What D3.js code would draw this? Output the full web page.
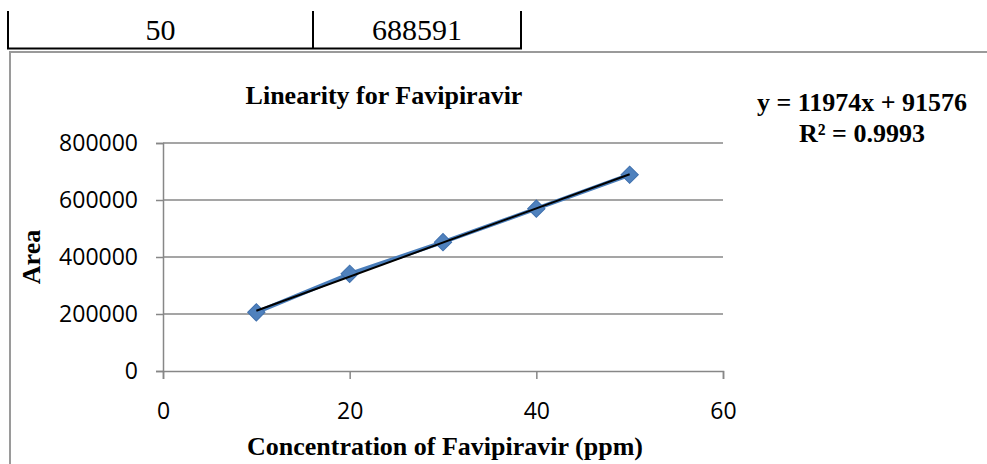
<!DOCTYPE html>
<html>
<head>
<meta charset="utf-8">
<script src="https://cdn.jsdelivr.net/npm/d3@7"></script>
<style>
  body { margin: 0; background: #fff; }
  svg { display: block; }
</style>
</head>
<body>
<svg id="chart" width="987" height="464"></svg>
<script>
// table row above the chart
const tableRow = ["50", "688591"];

// series
const concentrations = [10, 20, 30, 40, 50];
const areas = [205800, 341000, 451900, 569700, 688591];

// axes
const xTicks = [0, 20, 40, 60];
const yTicks = [0, 200000, 400000, 600000, 800000];

// trendline
const slope = 11974;
const intercept = 91576;
const rSquared = "0.9993";

const svg = d3.select("#chart");
const serif = "'Liberation Serif', 'Times New Roman', serif";
const sans = "'Open Sans', sans-serif";
const grid = "#878787";

// table fragment at the top
const cols = [8, 313, 521];
cols.forEach(x => {
    svg.append("line")
        .attr("x1", x).attr("x2", x).attr("y1", 11).attr("y2", 49)
        .attr("stroke", "#000").attr("stroke-width", 2);
});
svg.append("line")
    .attr("x1", 7).attr("x2", 522).attr("y1", 48.5).attr("y2", 48.5)
    .attr("stroke", "#000").attr("stroke-width", 2);
tableRow.forEach((t, i) => {
    svg.append("text")
        .attr("x", (cols[i] + cols[i + 1]) / 2)
        .attr("y", 40)
        .attr("text-anchor", "middle")
        .attr("font-family", serif)
        .attr("font-size", 30)
        .text(t);
});

// chart frame
svg.append("path")
    .attr("d", "M10,464 V52 H987")
    .attr("fill", "none")
    .attr("stroke", "#9a9a9a")
    .attr("stroke-width", 2);

const x = d3.scaleLinear().domain([0, 60]).range([163, 723]);
const y = d3.scaleLinear().domain([0, 800000]).range([371, 143]);

// gridlines
svg.append("g")
    .selectAll("line")
    .data(yTicks.slice(1))
    .join("line")
    .attr("x1", x(0)).attr("x2", x(60))
    .attr("y1", d => y(d)).attr("y2", d => y(d))
    .attr("stroke", grid).attr("stroke-width", 1.5);

// axes
const yAxis = svg.append("g")
    .attr("transform", `translate(${x(0)},0)`)
    .call(d3.axisLeft(y).tickValues(yTicks).tickSize(7).tickPadding(18).tickFormat(d3.format("d")));
const xAxis = svg.append("g")
    .attr("transform", `translate(0,${y(0)})`)
    .call(d3.axisBottom(x).tickValues(xTicks).tickSize(8).tickPadding(24).tickFormat(d3.format("d")));

[yAxis, xAxis].forEach(g => {
    g.select(".domain").attr("stroke", grid).attr("stroke-width", 1.5);
    g.selectAll(".tick line").attr("stroke", grid).attr("stroke-width", 1.5);
    g.selectAll(".tick text")
        .attr("fill", "#000")
        .attr("font-family", sans)
        .attr("font-size", 23);
});

// series line
const pts = concentrations.map((c, i) => [c, areas[i]]);
svg.append("path")
    .datum(pts)
    .attr("d", d3.line().x(d => x(d[0])).y(d => y(d[1])))
    .attr("fill", "none")
    .attr("stroke", "#4a7ebb")
    .attr("stroke-width", 4);

// diamond markers
svg.append("g")
    .selectAll("path")
    .data(pts)
    .join("path")
    .attr("d", d3.symbol().type(d3.symbolSquare).size(150))
    .attr("transform", d => `translate(${x(d[0])},${y(d[1])}) rotate(45)`)
    .attr("fill", "#4f81bd")
    .attr("stroke", "#3f70ad")
    .attr("stroke-width", 1);

// linear trendline
const xs = d3.extent(concentrations);
svg.append("line")
    .attr("x1", x(xs[0])).attr("y1", y(slope * xs[0] + intercept))
    .attr("x2", x(xs[1])).attr("y2", y(slope * xs[1] + intercept))
    .attr("stroke", "#000")
    .attr("stroke-width", 2);

// titles
svg.append("text")
    .attr("x", 384).attr("y", 104)
    .attr("text-anchor", "middle")
    .attr("font-family", serif).attr("font-weight", "bold").attr("font-size", 26)
    .text("Linearity for Favipiravir");

svg.append("text")
    .attr("x", 445).attr("y", 455)
    .attr("text-anchor", "middle")
    .attr("font-family", serif).attr("font-weight", "bold").attr("font-size", 26)
    .text("Concentration of Favipiravir (ppm)");

svg.append("text")
    .attr("transform", "translate(40,257) rotate(-90)")
    .attr("text-anchor", "middle")
    .attr("font-family", serif).attr("font-weight", "bold").attr("font-size", 26)
    .text("Area");

// equation label
const eq = svg.append("text")
    .attr("text-anchor", "middle")
    .attr("font-family", serif).attr("font-weight", "bold").attr("font-size", 26);
eq.append("tspan").attr("x", 862).attr("y", 111)
    .text(`y = ${slope}x + ${intercept}`);
eq.append("tspan").attr("x", 862).attr("y", 142)
    .text(`R² = ${rSquared}`);
</script>
</body>
</html>
